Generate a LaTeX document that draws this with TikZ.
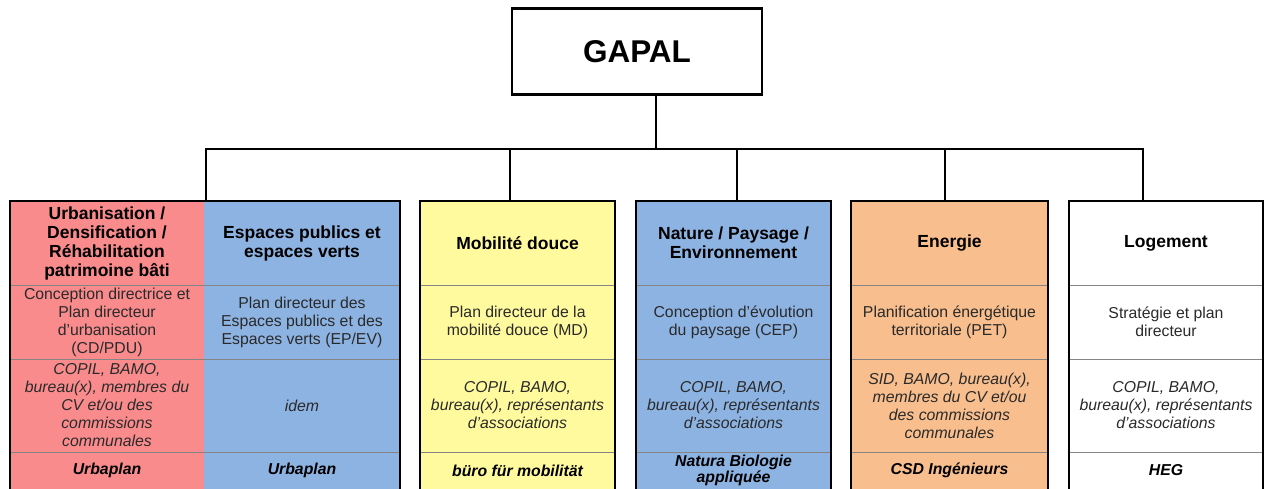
\documentclass[tikz,border=0pt]{standalone}
\usepackage{fontspec}
\setmainfont{Liberation Sans}
\definecolor{cred}{HTML}{F98B8D}
\definecolor{cblue}{HTML}{8DB3E2}
\definecolor{cyellow}{HTML}{FFFA9E}
\definecolor{corange}{HTML}{F8BE8D}
\definecolor{ctext}{HTML}{2A2A2A}
\definecolor{cdiv}{HTML}{858585}
\begin{document}
\begin{tikzpicture}[x=1pt,y=-1pt,
  cell/.style={rectangle, inner sep=0pt, outer sep=0pt, align=center, anchor=north west},
  hdr/.style={cell, minimum height=84pt, font=\fontsize{17.5}{19}\selectfont\bfseries},
  plan/.style={cell, minimum height=74pt, text=ctext, font=\fontsize{15.8}{18}\selectfont},
  actors/.style={cell, minimum height=93pt, text=ctext, font=\fontsize{15.8}{18}\selectfont\itshape},
  office/.style={cell, minimum height=37pt, font=\fontsize{15.8}{16}\selectfont\bfseries\itshape},
  w/.style={minimum width=#1pt},
  border/.style={line width=2.4pt, black},
  divider/.style={line width=0.8pt, cdiv},
  conn/.style={line width=2pt, black},
]
\useasboundingbox (0,0) rectangle (1266,489);
\fill[white] (0,0) rectangle (1266,489);

% top node
\node[draw, line width=2.6pt, minimum width=250pt, minimum height=86pt, inner sep=0pt,
      font=\fontsize{31.5}{34}\selectfont\bfseries] (gapal) at (637,51.5) {GAPAL};

% column 1 (two sub-columns)
\node[hdr, w=194, fill=cred] (h1a) at (10,201) {Urbanisation /\\Densification /\\Réhabilitation\\patrimoine bâti};
\node[plan, w=194, fill=cred] (p1a) at (10,285) {Conception directrice et\\Plan directeur\\d’urbanisation\\(CD/PDU)};
\node[actors, w=194, fill=cred] (a1a) at (10,359) {COPIL, BAMO,\\bureau(x), membres du\\CV et/ou des\\commissions\\communales};
\node[office, w=194, fill=cred] (b1a) at (10,452) {Urbaplan};

\node[hdr, w=196, fill=cblue] (h1b) at (204,201) {Espaces publics et\\espaces verts};
\node[plan, w=196, fill=cblue] (p1b) at (204,285) {Plan directeur des\\Espaces publics et des\\Espaces verts (EP/EV)};
\node[actors, w=196, fill=cblue] (a1b) at (204,359) {idem};
\node[office, w=196, fill=cblue] (b1b) at (204,452) {Urbaplan};

% column 2
\node[hdr, w=195, fill=cyellow] (h2) at (420,201) {Mobilité douce};
\node[plan, w=195, fill=cyellow] (p2) at (420,285) {Plan directeur de la\\mobilité douce (MD)};
\node[actors, w=195, fill=cyellow] (a2) at (420,359) {COPIL, BAMO,\\bureau(x), représentants\\d’associations};
\node[office, w=195, fill=cyellow] (b2) at (420,452) {büro für mobilität};

% column 3
\node[hdr, w=195, fill=cblue] (h3) at (636,201) {Nature / Paysage /\\Environnement};
\node[plan, w=195, fill=cblue] (p3) at (636,285) {Conception d’évolution\\du paysage (CEP)};
\node[actors, w=195, fill=cblue] (a3) at (636,359) {COPIL, BAMO,\\bureau(x), représentants\\d’associations};
\node[office, w=195, fill=cblue] (b3) at (636,452) {Natura Biologie\\appliquée};

% column 4
\node[hdr, w=197, fill=corange] (h4) at (851,201) {Energie};
\node[plan, w=197, fill=corange] (p4) at (851,285) {Planification énergétique\\territoriale (PET)};
\node[actors, w=197, fill=corange] (a4) at (851,359) {SID, BAMO, bureau(x),\\membres du CV et/ou\\des commissions\\communales};
\node[office, w=197, fill=corange] (b4) at (851,452) {CSD Ingénieurs};

% column 5
\node[hdr, w=194, fill=white] (h5) at (1069,201) {Logement};
\node[plan, w=194, fill=white] (p5) at (1069,285) {Stratégie et plan\\directeur};
\node[actors, w=194, fill=white] (a5) at (1069,359) {COPIL, BAMO,\\bureau(x), représentants\\d’associations};
\node[office, w=194, fill=white] (b5) at (1069,452) {HEG};

% row dividers
\draw[divider] (h1a.south west) -- (h1b.south east);
\draw[divider] (p1a.south west) -- (p1b.south east);
\draw[divider] (a1a.south west) -- (a1b.south east);
\foreach \c in {2,3,4,5}{
  \draw[divider] (h\c.south west) -- (h\c.south east);
  \draw[divider] (p\c.south west) -- (p\c.south east);
  \draw[divider] (a\c.south west) -- (a\c.south east);
}

% connectors
\coordinate (bus) at (656,149);
\coordinate (t1) at ([xshift=2pt]h1a.north east);
\coordinate (t2) at ([xshift=-7.5pt]h2.north);
\coordinate (t3) at ([xshift=3.5pt]h3.north);
\coordinate (t4) at ([xshift=-4.5pt]h4.north);
\coordinate (t5) at ([xshift=-23pt]h5.north);
\draw[conn] ([xshift=19pt]gapal.south) -- (bus);
\draw[conn] (t1) -- (t1 |- bus) -- (t5 |- bus) -- (t5);
\foreach \t in {t2,t3,t4}{ \draw[conn] (\t |- bus) -- (\t); }

% outer borders (open at the cut bottom)
\draw[border] (b1a.south west) -- (h1a.north west) -- (h1b.north east) -- (b1b.south east);
\foreach \c in {2,3,4,5}{
  \draw[border] (b\c.south west) -- (h\c.north west) -- (h\c.north east) -- (b\c.south east);
}
\end{tikzpicture}
\end{document}
